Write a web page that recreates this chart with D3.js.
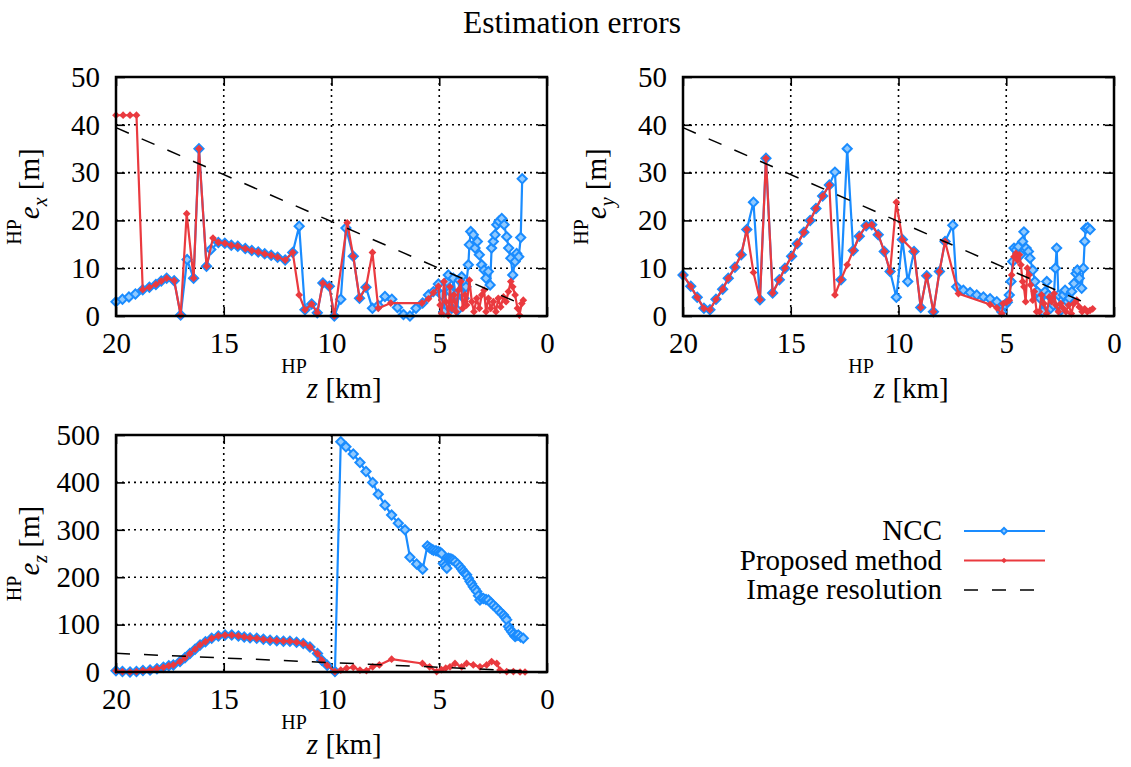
<!DOCTYPE html>
<html>
<head>
<meta charset="utf-8">
<script src="https://cdn.jsdelivr.net/npm/d3@7"></script>
<style>
body { margin: 0; background: #fff; }
text { font-family: "Liberation Serif", "Times New Roman", serif; fill: #000; }
</style>
</head>
<body>
<svg id="chart" width="1131" height="767"></svg>
<script>
// ---- data (altitude HPz in km, error in m) ----
const xTicks = [20, 15, 10, 5, 0];
const exyTicks = [0, 10, 20, 30, 40, 50];
const ezTicks = [0, 100, 200, 300, 400, 500];
const resolution = [[20, 39.4], [1.15, 2.4]];

const ex_ncc = [[20,3.0],[19.7,3.5],[19.4,4.0],[19.1,4.6],[18.76,5.5],[18.45,6.0],[18.15,6.6],[17.9,7.3],[17.65,7.9],[17.3,7.4],[17.0,0.2],[16.7,11.8],[16.4,7.9],[16.15,35],[15.8,10.4],[15.6,13.9],[15.25,15.4],[14.95,15.2],[14.65,14.8],[14.35,14.6],[14.0,14.1],[13.7,13.7],[13.4,13.4],[13.1,13.0],[12.8,12.7],[12.5,12.3],[12.15,11.7],[11.8,13.3],[11.5,18.8],[11.23,1.3],[10.92,2.5],[10.66,0.7],[10.4,6.9],[10.1,6.2],[9.87,0],[9.57,3.5],[9.33,18.4],[8.99,12.5],[8.7,3.7],[8.4,6.0],[8.1,1.6],[7.83,2.2],[7.52,4.1],[7.2,3.5],[6.94,1.8],[6.66,0.3],[6.36,0],[6.08,1.6],[5.77,2.7],[5.5,4.4],[5.27,5.1],[5.04,6.7],[4.89,4.4],[4.78,0.9],[4.65,7.2],[4.58,8.6],[4.5,5.1],[4.42,1.6],[4.35,7.9],[4.24,4.4],[4.16,1.2],[4.07,7.5],[3.96,8.2],[3.85,3.7],[3.76,6.1],[3.65,10.7],[3.6,14.9],[3.54,17.7],[3.42,17.0],[3.34,14.2],[3.23,15.6],[3.14,12.8],[3.03,10.7],[2.92,9.6],[2.83,7.9],[2.72,9.3],[2.64,6.5],[2.57,14.2],[2.49,15.6],[2.41,17.0],[2.33,19.1],[2.23,19.8],[2.1,20.4],[1.99,19.1],[1.87,16.6],[1.78,14.2],[1.68,12.1],[1.59,8.6],[1.48,11.4],[1.41,13.1],[1.31,12.4],[1.22,16.4],[1.15,28.7]];
const ex_prop = [[20,42],[19.67,42],[19.35,42],[19.05,42],[18.76,5.5],[18.45,6.0],[18.15,6.6],[17.9,7.3],[17.65,7.9],[17.3,7.4],[17.0,0.2],[16.72,21.4],[16.4,7.9],[16.15,35],[15.8,10.4],[15.5,16.3],[15.25,15.4],[14.95,15.2],[14.65,14.8],[14.35,14.6],[14.0,14.1],[13.7,13.7],[13.4,13.4],[13.1,13.0],[12.8,12.7],[12.5,12.3],[12.15,11.7],[11.8,13.3],[11.5,4.4],[11.23,1.3],[10.92,2.5],[10.66,0.7],[10.4,6.9],[10.1,6.2],[9.87,0],[9.27,19.5],[8.99,12.5],[8.7,3.7],[8.4,6.0],[8.1,13.3],[7.83,1.6],[7.25,2.7],[5.8,2.7],[5.5,3.6],[5.27,4.9],[5.04,6.2],[4.96,2.3],[4.89,0.5],[4.78,7.2],[4.69,3.0],[4.58,0.2],[4.5,6.1],[4.42,1.6],[4.31,4.4],[4.22,0.9],[4.11,5.4],[4.0,7.2],[3.91,1.6],[3.8,4.4],[3.73,2.3],[3.6,7.5],[3.49,3.0],[3.39,0.9],[3.26,3.7],[3.14,1.6],[3.03,4.4],[2.92,5.4],[2.83,0.9],[2.72,3.7],[2.61,1.6],[2.49,3.0],[2.37,0.9],[2.26,3.7],[2.15,1.9],[2.02,4.0],[1.9,3.0],[1.79,5.1],[1.68,7.2],[1.59,6.1],[1.48,4.4],[1.37,1.6],[1.28,0.2],[1.17,2.6],[1.1,3.3]];

const ey_ncc = [[20,8.6],[19.64,6.2],[19.34,3.9],[19.03,1.6],[18.75,1.3],[18.47,3.5],[18.16,5.6],[17.9,7.9],[17.59,10.2],[17.3,12.8],[17.04,18.1],[16.73,23.8],[16.43,3.4],[16.15,33],[15.84,4.8],[15.53,7.6],[15.27,10.0],[14.96,12.5],[14.7,15.1],[14.39,17.5],[14.1,20.0],[13.83,22.5],[13.52,25.1],[13.21,27.4],[12.95,30.1],[12.67,7.6],[12.38,35],[12.1,13.7],[11.82,16.7],[11.5,18.9],[11.24,19.1],[10.94,17.0],[10.66,13.5],[10.39,9.3],[10.1,3.9],[9.82,16.0],[9.57,7.2],[9.28,13.5],[8.97,1.8],[8.69,8.4],[8.38,0.9],[8.1,9.3],[7.84,15.6],[7.48,19.0],[7.3,6.1],[6.99,5.4],[6.68,4.9],[6.37,4.4],[6.06,4.0],[5.75,3.6],[5.44,3.0],[5.21,0.9],[5.06,2.3],[4.95,2.9],[4.86,4.4],[4.78,7.2],[4.7,11.4],[4.64,14.2],[4.55,13.8],[4.44,14.5],[4.33,12.8],[4.24,15.6],[4.18,17.6],[4.08,14.2],[3.97,13.5],[3.9,12.1],[3.77,9.6],[3.67,7.2],[3.56,5.1],[3.43,3.7],[3.31,0.9],[3.2,5.1],[3.12,7.2],[3.05,4.4],[2.94,1.6],[2.81,2.3],[2.72,10.0],[2.66,14.2],[2.58,4.4],[2.47,1.2],[2.35,4.4],[2.27,5.4],[2.16,3.0],[2.07,3.7],[1.96,5.1],[1.86,6.8],[1.76,8.9],[1.7,9.6],[1.61,7.9],[1.5,5.8],[1.42,10.0],[1.36,15.6],[1.31,18.3],[1.22,18.5],[1.11,18.1]];
const ey_prop = [[20,8.6],[19.64,6.2],[19.34,3.9],[19.03,1.6],[18.75,1.3],[18.47,3.5],[18.16,5.6],[17.9,7.9],[17.59,10.2],[17.3,12.8],[17.04,18.1],[16.73,9.1],[16.43,3.4],[16.15,33],[15.84,4.8],[15.53,7.6],[15.27,10.0],[14.96,12.5],[14.7,15.1],[14.39,17.5],[14.1,20.0],[13.83,22.5],[13.52,25.1],[13.21,27.4],[12.95,4.4],[12.67,7.6],[12.38,10.7],[12.1,13.7],[11.82,16.7],[11.5,18.9],[11.24,19.1],[10.94,17.0],[10.66,13.5],[10.39,9.3],[10.1,23.8],[9.82,16.0],[9.28,13.5],[8.97,1.8],[8.69,8.4],[8.38,0.9],[8.1,9.3],[7.84,15.6],[7.22,4.7],[5.75,2.4],[5.44,1.7],[5.21,0.5],[5.14,2.6],[4.98,2.9],[4.86,3.3],[4.75,8.6],[4.64,12.4],[4.55,13.1],[4.47,11.7],[4.39,12.8],[4.32,10.7],[4.24,7.2],[4.18,6.1],[4.1,3.0],[4.02,10.0],[3.94,8.6],[3.87,6.5],[3.77,3.3],[3.7,5.1],[3.59,0.9],[3.46,0.9],[3.36,4.4],[3.25,2.6],[3.12,0.5],[3.0,4.0],[2.89,3.0],[2.78,4.7],[2.69,2.3],[2.58,0.9],[2.47,2.6],[2.35,1.6],[2.23,0.9],[2.1,2.3],[1.98,0.5],[1.86,2.6],[1.73,3.3],[1.61,1.9],[1.48,0.9],[1.36,1.5],[1.24,0.9],[1.11,1.2],[0.99,1.5]];

const ez_ncc = [[20,2.8],[19.7,1],[19.35,0],[19.05,1],[18.75,3],[18.42,4],[18.1,7],[17.8,10],[17.55,13],[17.34,15],[17.03,22],[16.8,30],[16.57,39],[16.33,48],[16.1,57],[15.85,64],[15.56,71],[15.25,76],[14.94,78],[14.63,78],[14.32,76],[14.05,74],[13.78,72],[13.47,71],[13.16,69],[12.85,67],[12.54,66],[12.23,65],[11.93,65],[11.62,63],[11.31,60],[11.0,53],[10.65,39],[10.45,25],[10.2,14],[9.84,1],[9.57,486],[9.33,475],[8.99,460],[8.68,442],[8.4,423],[8.09,400],[7.83,375],[7.52,352],[7.21,331],[6.9,314],[6.59,300],[6.36,242],[6.05,228],[5.77,217],[5.55,266],[5.45,262],[5.35,259],[5.27,257],[5.15,256],[5.04,254],[4.95,252],[4.89,250],[4.81,229],[4.72,224],[4.65,219],[4.58,240],[4.5,239],[4.42,238],[4.35,236],[4.27,233],[4.15,228],[4.04,222],[3.95,217],[3.88,212],[3.8,208],[3.73,205],[3.65,198],[3.57,191],[3.5,186],[3.42,180],[3.34,175],[3.26,170],[3.18,161],[3.11,152],[3.03,156],[2.95,155],[2.83,153],[2.72,152],[2.6,146],[2.49,141],[2.37,136],[2.26,131],[2.14,125],[2.02,120],[1.94,115],[1.87,110],[1.79,96],[1.72,90],[1.64,85],[1.56,80],[1.48,75],[1.4,77],[1.33,78],[1.22,74],[1.1,71]];
const ez_prop = [[20,2.8],[19.7,1],[19.35,0],[19.05,1],[18.75,3],[18.42,4],[18.1,7],[17.8,10],[17.55,13],[17.34,15],[17.03,22],[16.8,30],[16.57,39],[16.33,48],[16.1,57],[15.85,64],[15.56,71],[15.25,76],[14.94,78],[14.63,78],[14.32,76],[14.05,74],[13.78,72],[13.47,71],[13.16,69],[12.85,67],[12.54,66],[12.23,65],[11.93,65],[11.62,63],[11.31,60],[11.0,53],[10.65,39],[10.45,25],[10.2,14],[9.84,1],[9.57,4],[9.3,8],[8.99,10],[8.68,4],[8.38,3],[8.09,11],[7.78,15],[7.21,27],[5.78,18],[5.45,11],[5.12,1],[4.9,5],[4.7,8],[4.5,11],[4.27,18],[3.96,11],[3.73,18],[3.42,15],[3.11,11],[2.8,15],[2.57,22],[2.33,18],[2.18,4],[1.87,1],[1.56,1],[1.25,0],[1.02,0]];

// ---- styles ----
const blue = "#1a8cff", blueFill = "#8fc9ff", red = "#ea3a3f";
const svg = d3.select("#chart");
svg.append("rect").attr("width", 1131).attr("height", 767).attr("fill", "#fff");

svg.append("text")
  .attr("x", 572).attr("y", 33)
  .attr("text-anchor", "middle")
  .style("font-size", "31.5px")
  .text("Estimation errors");

function drawPanel(p) {
  const width = p.w, height = p.h;
  const x = d3.scaleLinear().domain([20, 0]).range([0, width]);
  const y = d3.scaleLinear().domain([0, p.yMax]).range([height, 0]);
  const g = svg.append("g").attr("transform", "translate(" + p.left + "," + p.top + ")");

  // dotted grid
  g.append("g").selectAll("line")
    .data(xTicks.filter(t => t !== 20 && t !== 0))
    .enter().append("line")
    .attr("x1", d => x(d)).attr("x2", d => x(d))
    .attr("y1", 0).attr("y2", height)
    .attr("stroke", "#000").attr("stroke-width", 1.6).attr("stroke-dasharray", "2,4");
  g.append("g").selectAll("line")
    .data(p.yTicks.filter(t => t !== 0 && t !== p.yMax))
    .enter().append("line")
    .attr("x1", 0).attr("x2", width)
    .attr("y1", d => y(d)).attr("y2", d => y(d))
    .attr("stroke", "#000").attr("stroke-width", 1.6).attr("stroke-dasharray", "2,4");

  // axes with inward ticks on all sides
  const fixAxis = sel => {
    sel.select(".domain").remove();
    sel.selectAll(".tick line").attr("stroke", "#000").attr("stroke-width", 1.6);
    sel.selectAll(".tick text").style("font-size", "29px")
       .style("font-family", "'Liberation Serif', 'Times New Roman', serif");
  };
  g.append("g").attr("transform", "translate(0," + height + ")")
    .call(d3.axisBottom(x).tickValues(xTicks).tickSize(-9).tickPadding(16))
    .call(fixAxis);
  g.append("g")
    .call(d3.axisLeft(y).tickValues(p.yTicks).tickSize(-9).tickPadding(16))
    .call(fixAxis);
  g.append("g")
    .call(d3.axisTop(x).tickValues(xTicks).tickSize(-9).tickFormat(""))
    .call(fixAxis);
  g.append("g").attr("transform", "translate(" + width + ",0)")
    .call(d3.axisRight(y).tickValues(p.yTicks).tickSize(-9).tickFormat(""))
    .call(fixAxis);

  const line = d3.line().x(d => x(d[0])).y(d => y(d[1]));

  // NCC
  g.append("path").datum(p.ncc).attr("d", line)
    .attr("fill", "none").attr("stroke", blue).attr("stroke-width", 2.2);
  g.append("g").selectAll("path")
    .data(p.ncc).enter().append("path")
    .attr("transform", d => "translate(" + x(d[0]) + "," + y(d[1]) + ") rotate(45)")
    .attr("d", d3.symbol(d3.symbolSquare, 42))
    .attr("fill", blueFill).attr("stroke", blue).attr("stroke-width", 2);

  // Proposed
  g.append("path").datum(p.prop).attr("d", line)
    .attr("fill", "none").attr("stroke", red).attr("stroke-width", 2.2);
  g.append("g").selectAll("path")
    .data(p.prop).enter().append("path")
    .attr("transform", d => "translate(" + x(d[0]) + "," + y(d[1]) + ") rotate(45)")
    .attr("d", d3.symbol(d3.symbolSquare, 30))
    .attr("fill", red);

  // Image resolution
  g.append("path").datum(resolution).attr("d", line)
    .attr("fill", "none").attr("stroke", "#000").attr("stroke-width", 1.5)
    .attr("stroke-dasharray", "14,14");

  // border
  g.append("rect").attr("width", width).attr("height", height)
    .attr("fill", "none").attr("stroke", "#000").attr("stroke-width", 2.5);

  // x label: HP z [km]
  const xl = g.append("text")
    .attr("x", width / 2).attr("y", height + 82)
    .attr("text-anchor", "middle").style("font-size", "29px");
  xl.append("tspan").text("HP").style("font-size", "20px").attr("dy", -25);
  xl.append("tspan").text("z").style("font-style", "italic").attr("dy", 25);
  xl.append("tspan").text(" [km]");

  // y label: HP e_sub [m]
  const yl = g.append("text")
    .attr("transform", "translate(" + (p.ylx - p.left) + "," + (height / 2) + ") rotate(-90)")
    .attr("text-anchor", "middle").style("font-size", "29px");
  yl.append("tspan").text("HP").style("font-size", "20px").attr("dy", -18);
  yl.append("tspan").text("e").style("font-style", "italic").attr("dy", 18);
  yl.append("tspan").text(p.sub).style("font-style", "italic").style("font-size", "20px").attr("dy", 8);
  yl.append("tspan").text(" [m]").attr("dy", -8);
}

drawPanel({left: 116, top: 77, w: 431, h: 239, yMax: 50, yTicks: exyTicks, ncc: ex_ncc, prop: ex_prop, sub: "x", ylx: 39});
drawPanel({left: 683, top: 77, w: 431, h: 239, yMax: 50, yTicks: exyTicks, ncc: ey_ncc, prop: ey_prop, sub: "y", ylx: 606});
drawPanel({left: 116, top: 435, w: 431, h: 237, yMax: 500, yTicks: ezTicks, ncc: ez_ncc, prop: ez_prop, sub: "z", ylx: 39});

// ---- legend ----
const legendItems = [
  {label: "NCC", color: blue, kind: "ncc"},
  {label: "Proposed method", color: red, kind: "prop"},
  {label: "Image resolution", color: "#000", kind: "res"}
];
const lg = svg.append("g").selectAll("g")
  .data(legendItems).enter().append("g")
  .attr("transform", (d, i) => "translate(0," + (531 + i * 29.5) + ")");
lg.append("text")
  .attr("x", 942).attr("dy", "0.32em")
  .attr("text-anchor", "end").style("font-size", "29px")
  .text(d => d.label);
lg.append("line")
  .attr("x1", 964).attr("x2", 1045)
  .attr("stroke", d => d.color)
  .attr("stroke-width", d => d.kind === "res" ? 1.5 : 2.2)
  .attr("stroke-dasharray", d => d.kind === "res" ? "14,14" : null);
lg.filter(d => d.kind === "ncc").append("path")
  .attr("transform", "translate(1004,0) rotate(45)")
  .attr("d", d3.symbol(d3.symbolSquare, 20))
  .attr("fill", blueFill).attr("stroke", blue).attr("stroke-width", 2);
lg.filter(d => d.kind === "prop").append("path")
  .attr("transform", "translate(1004,0) rotate(45)")
  .attr("d", d3.symbol(d3.symbolSquare, 16))
  .attr("fill", red);
</script>
</body>
</html>
